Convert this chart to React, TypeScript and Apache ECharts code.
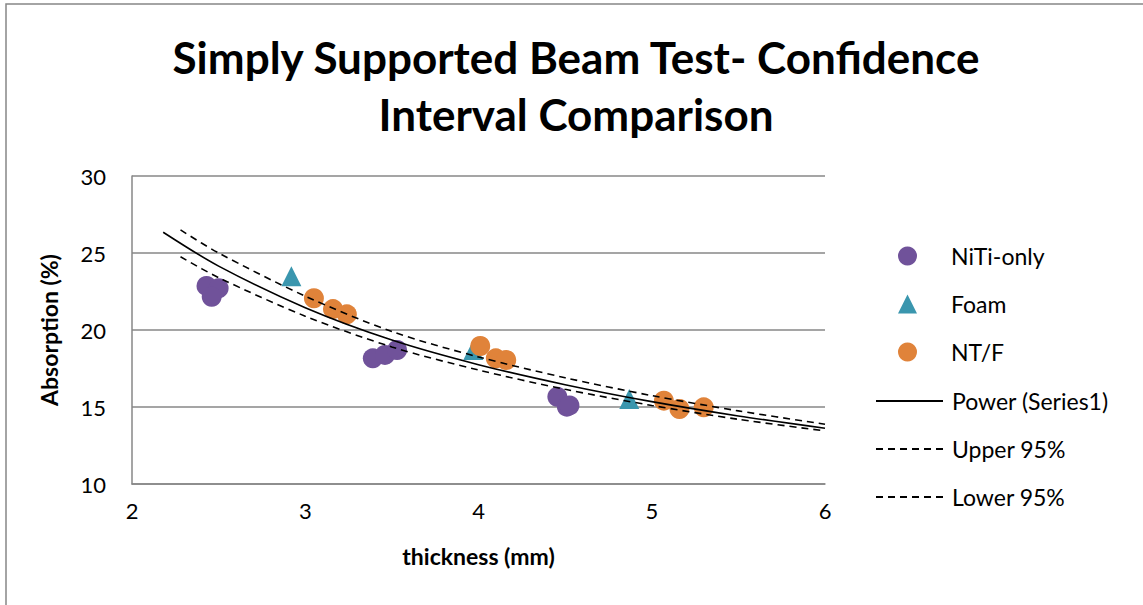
import { useEffect, useRef } from "react";
import * as echarts from "echarts";

// Measured samples: [thickness (mm), absorption (%)]
const nitiOnly: number[][] = [
  [2.43, 22.86], [2.5, 22.71], [2.46, 22.16],
  [3.39, 18.16], [3.46, 18.38], [3.53, 18.7],
  [4.455, 15.66], [4.51, 15.02], [4.525, 15.1],
];
const foam: number[][] = [
  [2.92, 23.49], [3.97, 18.7], [4.87, 15.52],
];
const ntf: number[][] = [
  [3.05, 22.06], [3.16, 21.36], [3.24, 21.02],
  [4.01, 18.96], [4.1, 18.16], [4.16, 18.05],
  [5.07, 15.41], [5.16, 14.87], [5.3, 14.98],
];

// Power trend line and its 95% confidence limits
const trendX = [2.18, 2.5, 3, 3.5, 4, 4.5, 5, 5.5, 6];
const powerFit = [26.35, 24.15, 21.45, 19.35, 17.75, 16.45, 15.35, 14.42, 13.62];
const ciX = [2.28, 2.5, 3, 3.5, 4, 4.5, 5, 5.5, 6];
const upper95 = [26.5, 25.0, 22.2, 19.9, 18.25, 16.9, 15.74, 14.75, 13.88];
const lower95 = [24.76, 23.4, 20.9, 18.9, 17.4, 16.15, 15.1, 14.2, 13.45];

const xTicks = { min: 2, max: 6, interval: 1 };
const yTicks = { min: 10, max: 30, interval: 5 };

const titleLines = ["Simply Supported Beam Test- Confidence", "Interval Comparison"];
const markerNames = ["NiTi-only", "Foam", "NT/F"];
const lineNames = ["Power (Series1)", "Upper 95%", "Lower 95%"];

const FONT = "Lato, 'Open Sans', sans-serif";
const GRID_GRAY = "#878787";
const DASH = [7, 5];

const zip = (xs: number[], ys: number[]) => xs.map((x, i) => [x, ys[i]]);

export default function App() {
  const ref = useRef<HTMLDivElement>(null);

  useEffect(() => {
    if (!ref.current) return;
    const chart = echarts.init(ref.current, undefined, { renderer: "svg" });

    const scatterBase = {
      type: "scatter" as const,
      symbolSize: 20,
      z: 3,
    };
    const lineBase = {
      type: "line" as const,
      showSymbol: false,
      symbol: "none",
      smooth: 0.3,
      z: 4,
    };
    const legendText = { fontFamily: FONT, fontSize: 23, lineHeight: 24, color: "#000000" };

    chart.setOption({
      animation: false,
      backgroundColor: "#ffffff",
      textStyle: { fontFamily: FONT },
      graphic: [
        {
          type: "rect",
          shape: { x: 6, y: 4, width: 1300, height: 800 },
          style: { fill: "none", stroke: GRID_GRAY, lineWidth: 1.5 },
          silent: true,
        },
        ...titleLines.map((t, i) => ({
          type: "text",
          x: 576,
          y: 57 + i * 57,
          style: {
            text: t,
            textAlign: "center",
            textVerticalAlign: "middle",
            fontFamily: FONT,
            fontWeight: "bold",
            fontSize: 44,
            fill: "#000000",
          },
        })),
      ],
      grid: { left: 132, right: 318, top: 176, bottom: 121, containLabel: false },
      legend: [
        {
          orient: "vertical",
          left: 893,
          top: 239,
          itemWidth: 19,
          itemHeight: 19,
          itemGap: 24,
          textStyle: { ...legendText, padding: [0, 0, 0, 29] },
          data: markerNames,
        },
        {
          orient: "vertical",
          left: 870,
          top: 384,
          itemWidth: 67,
          itemHeight: 19,
          itemGap: 24,
          textStyle: { ...legendText, padding: [0, 0, 0, 4] },
          data: lineNames.map((name) => ({ name, itemStyle: { opacity: 0 } })),
        },
      ],
      xAxis: {
        type: "value",
        min: xTicks.min,
        max: xTicks.max,
        interval: xTicks.interval,
        name: "thickness (mm)",
        nameLocation: "middle",
        nameGap: 60,
        nameTextStyle: { fontFamily: FONT, fontSize: 23, fontWeight: "bold", color: "#000000" },
        axisLine: { show: true, lineStyle: { color: GRID_GRAY, width: 1.5 } },
        axisTick: { show: false },
        splitLine: { show: false },
        axisLabel: { fontFamily: FONT, fontSize: 22, color: "#000000", margin: 15 },
      },
      yAxis: {
        type: "value",
        min: yTicks.min,
        max: yTicks.max,
        interval: yTicks.interval,
        name: "Absorption (%)",
        nameLocation: "middle",
        nameGap: 72,
        nameTextStyle: { fontFamily: FONT, fontSize: 23, fontWeight: "bold", color: "#000000" },
        axisLine: { show: true, lineStyle: { color: GRID_GRAY, width: 1.5 } },
        axisTick: { show: false },
        splitLine: { show: true, lineStyle: { color: GRID_GRAY, width: 1.5 } },
        axisLabel: { fontFamily: FONT, fontSize: 22, color: "#000000", margin: 26 },
      },
      series: [
        { ...scatterBase, name: "NiTi-only", symbol: "circle", itemStyle: { color: "#70529A", opacity: 1 }, data: nitiOnly },
        { ...scatterBase, name: "Foam", symbol: "triangle", itemStyle: { color: "#3A96AE", opacity: 1 }, data: foam },
        { ...scatterBase, name: "NT/F", symbol: "circle", itemStyle: { color: "#E0833A", opacity: 1 }, data: ntf },
        {
          ...lineBase,
          name: "Power (Series1)",
          itemStyle: { color: "#000000" },
          lineStyle: { color: "#000000", width: 1.6, type: "solid" },
          data: zip(trendX, powerFit),
        },
        {
          ...lineBase,
          name: "Upper 95%",
          itemStyle: { color: "#000000" },
          lineStyle: { color: "#000000", width: 1.6, type: DASH },
          data: zip(ciX, upper95),
        },
        {
          ...lineBase,
          name: "Lower 95%",
          itemStyle: { color: "#000000" },
          lineStyle: { color: "#000000", width: 1.6, type: DASH },
          data: zip(ciX, lower95),
        },
      ],
    });

    return () => chart.dispose();
  }, []);

  return (
    <div
      ref={ref}
      style={{ position: "fixed", left: 0, top: 0, width: 1143, height: 605, background: "#fff" }}
    />
  );
}
